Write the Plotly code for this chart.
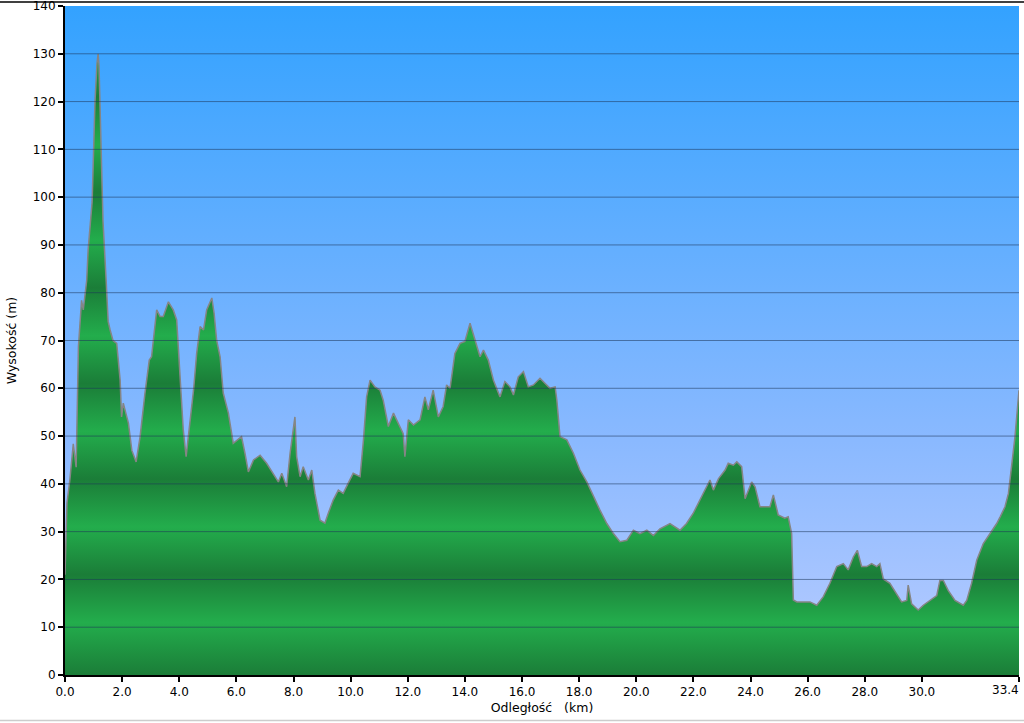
"""Elevation profile (Wysokość vs Odległość) recreated with Plotly."""

import plotly.graph_objects as go

# distance along the route (km) and elevation (m)
DIST_KM = [
    0.00, 0.07, 0.17, 0.29, 0.39, 0.47, 0.58, 0.64, 0.76, 0.81, 0.95, 1.05,
    1.12, 1.16, 1.19, 1.26, 1.33, 1.44, 1.51, 1.58, 1.68, 1.81, 1.93, 1.98,
    2.04, 2.22, 2.34, 2.49, 2.63, 2.80, 2.95, 3.03, 3.21, 3.33, 3.44, 3.62,
    3.79, 3.91, 4.03, 4.14, 4.24, 4.36, 4.50, 4.61, 4.73, 4.85, 4.96, 5.14,
    5.22, 5.31, 5.43, 5.54, 5.72, 5.89, 6.18, 6.30, 6.42, 6.60, 6.83, 7.06,
    7.29, 7.47, 7.59, 7.76, 7.88, 7.99, 8.05, 8.11, 8.23, 8.34, 8.52, 8.64,
    8.75, 8.93, 9.10, 9.22, 9.39, 9.57, 9.74, 9.92, 10.09, 10.33, 10.45, 10.56,
    10.68, 10.85, 11.03, 11.14, 11.32, 11.50, 11.67, 11.84, 11.90, 12.02, 12.20, 12.43,
    12.60, 12.72, 12.89, 13.07, 13.24, 13.36, 13.48, 13.65, 13.83, 14.00, 14.18, 14.35,
    14.53, 14.65, 14.82, 15.00, 15.23, 15.40, 15.58, 15.70, 15.87, 16.05, 16.22, 16.40,
    16.63, 16.81, 16.98, 17.16, 17.22, 17.33, 17.57, 17.80, 18.03, 18.27, 18.50, 18.73,
    18.97, 19.20, 19.43, 19.67, 19.90, 20.13, 20.37, 20.60, 20.83, 21.18, 21.53, 21.76,
    21.99, 22.23, 22.47, 22.58, 22.70, 22.88, 23.11, 23.22, 23.40, 23.52, 23.69, 23.81,
    23.93, 24.04, 24.16, 24.33, 24.57, 24.68, 24.80, 24.97, 25.20, 25.32, 25.44, 25.50,
    25.62, 25.85, 26.08, 26.32, 26.55, 26.78, 27.02, 27.25, 27.42, 27.60, 27.74, 27.89,
    28.07, 28.24, 28.42, 28.53, 28.65, 28.88, 29.12, 29.29, 29.47, 29.52, 29.64, 29.87,
    30.05, 30.28, 30.52, 30.63, 30.75, 30.92, 31.16, 31.45, 31.57, 31.74, 31.92, 32.15,
    32.39, 32.62, 32.74, 32.91, 33.03, 33.14, 33.26, 33.40,
]
ELEV_M = [
    21.0, 36.0, 40.8, 48.4, 43.5, 68.7, 78.4, 76.4, 82.6, 89.0, 99.0, 120.0,
    128.0, 130.0, 127.6, 112.0, 95.0, 82.6, 74.0, 72.2, 70.0, 69.4, 61.7, 54.0,
    56.9, 52.7, 47.0, 44.6, 49.9, 59.0, 65.9, 66.6, 76.4, 75.0, 75.0, 78.1,
    76.4, 74.3, 61.7, 51.3, 45.7, 52.0, 59.6, 67.3, 72.9, 72.2, 76.4, 78.9,
    75.7, 70.0, 66.6, 59.0, 54.8, 48.5, 49.9, 46.4, 42.5, 45.0, 46.0, 44.3,
    42.2, 40.4, 42.2, 39.4, 46.4, 51.3, 54.0, 45.7, 41.5, 43.6, 40.8, 42.9,
    38.0, 32.4, 31.8, 33.9, 36.6, 38.7, 38.0, 40.2, 42.2, 41.5, 49.2, 58.2,
    61.7, 60.3, 59.6, 57.5, 52.0, 54.8, 52.7, 50.5, 45.7, 53.4, 52.3, 53.4,
    58.2, 55.5, 59.6, 54.0, 56.2, 60.7, 60.0, 67.3, 69.4, 69.8, 73.6, 70.1,
    66.6, 68.0, 65.9, 61.7, 58.2, 61.4, 60.3, 58.6, 62.4, 63.5, 60.3, 60.7,
    62.1, 61.0, 60.0, 60.3, 57.5, 49.9, 49.2, 46.4, 42.9, 40.4, 37.3, 34.5,
    31.7, 29.6, 27.9, 28.2, 30.3, 29.6, 30.3, 29.2, 30.6, 31.7, 30.3, 31.7,
    33.8, 36.6, 39.4, 40.8, 38.7, 41.1, 42.9, 44.3, 43.9, 44.6, 43.6, 36.9,
    38.7, 40.4, 39.4, 35.2, 35.2, 35.2, 37.7, 33.5, 32.8, 33.1, 29.6, 15.7,
    15.3, 15.3, 15.3, 14.6, 16.4, 19.2, 22.7, 23.3, 22.0, 24.7, 26.1, 22.7,
    22.7, 23.3, 22.7, 23.3, 20.1, 19.2, 17.0, 15.3, 15.6, 18.8, 14.9, 13.6,
    14.6, 15.6, 16.6, 19.8, 19.8, 17.7, 15.6, 14.6, 15.6, 19.2, 24.0, 27.5,
    29.6, 31.7, 33.1, 35.2, 38.0, 43.6, 49.9, 59.6,
]

X_MAX = 33.4
Y_MAX = 140
X_TICKS = [0, 2, 4, 6, 8, 10, 12, 14, 16, 18, 20, 22, 24, 26, 28, 30, 33.4]
Y_TICKS = list(range(0, 141, 10))

FONT = "DejaVu Sans, Verdana, sans-serif"
GREEN_DARK = "#1b7d38"
GREEN_LIGHT = "#23ad4c"

# horizontal shaded bands in the green area (dark ~every 20 m)
green_scale = []
for k in range(0, 8):
    dark = (k * 20 + 1) / Y_MAX
    light = (k * 20 + 11) / Y_MAX
    if dark <= 1:
        green_scale.append([0.0 if k == 0 else dark, GREEN_DARK])
    if light <= 1:
        green_scale.append([light, GREEN_LIGHT])
green_scale.append([1.0, GREEN_DARK])

# the last label is drawn as an annotation, right-aligned to its tick
x_ticktext = [f"{v:.1f}" for v in X_TICKS]
last_label = x_ticktext[-1]
x_ticktext[-1] = ""

fig = go.Figure()

# sky gradient behind the profile
fig.add_trace(go.Scatter(
    x=[0, X_MAX, X_MAX, 0, 0],
    y=[0, 0, Y_MAX, Y_MAX, 0],
    fill="toself",
    mode="none",
    fillgradient=dict(
        type="vertical",
        start=0,
        stop=Y_MAX,
        colorscale=[[0, "#b9ccff"], [0.35, "#8ab9ff"], [1, "#33a2ff"]],
    ),
    hoverinfo="skip",
    showlegend=False,
))

fig.add_trace(go.Scatter(
    x=DIST_KM,
    y=ELEV_M,
    mode="lines",
    fill="tozeroy",
    line=dict(color="#858585", width=1.5),
    fillgradient=dict(type="vertical", start=0, stop=Y_MAX, colorscale=green_scale),
    showlegend=False,
    hovertemplate="%{x:.1f} km<br>%{y:.0f} m<extra></extra>",
))

for yv in Y_TICKS[1:-1]:
    fig.add_hline(y=yv, line_color="rgba(30,55,90,0.55)", line_width=1, layer="above")

# page frame lines
fig.add_shape(type="line", xref="paper", yref="paper", x0=-0.07, x1=1.01,
              y0=1.006, y1=1.006, line=dict(color="black", width=1.5))
fig.add_shape(type="line", xref="paper", yref="paper", x0=-0.07, x1=1.01,
              y0=-0.068, y1=-0.068, line=dict(color="#cccccc", width=1.5))

fig.add_annotation(
    x=X_MAX, xref="x", y=0, yref="paper",
    text=last_label, showarrow=False,
    xanchor="right", yanchor="top", yshift=-6, xshift=2,
    font=dict(family=FONT, size=12, color="black"),
)

axis_common = dict(
    ticks="outside",
    ticklen=5,
    tickwidth=1.5,
    tickcolor="black",
    showline=True,
    linecolor="black",
    linewidth=2,
    showgrid=False,
    zeroline=False,
    automargin=False,
    ticklabeloverflow="allow",
    tickfont=dict(size=12),
)

fig.update_layout(
    width=1024,
    height=723,
    margin=dict(l=65, r=5, t=6, b=48),
    paper_bgcolor="white",
    plot_bgcolor="white",
    font=dict(family=FONT, size=12, color="black"),
    xaxis=dict(
        range=[0, X_MAX],
        tickvals=X_TICKS,
        ticktext=x_ticktext,
        title=dict(text="Odległość\u00a0\u00a0\u00a0(km)", font=dict(size=12.5), standoff=5),
        **axis_common,
    ),
    yaxis=dict(
        range=[0, Y_MAX],
        tickvals=Y_TICKS,
        title=dict(text="Wysokość (m)", font=dict(size=12.5), standoff=13),
        **axis_common,
    ),
)

# drop the browser's default page margin so the chart fills the window
fig.write_html(
    "out.html",
    config={"displayModeBar": False},
    post_script="document.body.style.margin='0';",
)
